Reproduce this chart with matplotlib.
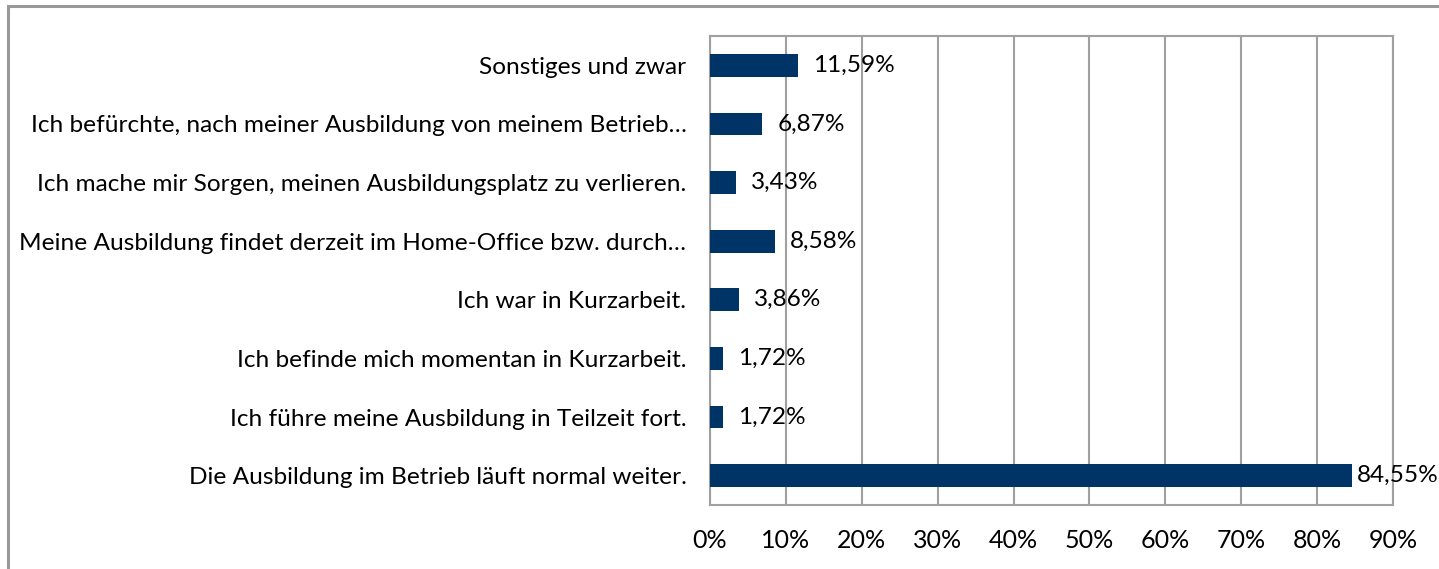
import matplotlib.pyplot as plt
from matplotlib.lines import Line2D

# Data (bottom to top)
categories = ["Die Ausbildung im Betrieb läuft normal weiter.",
              "Ich führe meine Ausbildung in Teilzeit fort.",
              "Ich befinde mich momentan in Kurzarbeit.",
              "Ich war in Kurzarbeit.",
              "Meine Ausbildung findet derzeit im Home-Office bzw. durch…",
              "Ich mache mir Sorgen, meinen Ausbildungsplatz zu verlieren.",
              "Ich befürchte, nach meiner Ausbildung von meinem Betrieb…",
              "Sonstiges und zwar"]
values = [84.55, 1.72, 1.72, 3.86, 8.58, 3.43, 6.87, 11.59]
ticks = [0, 10, 20, 30, 40, 50, 60, 70, 80, 90]

plt.rcParams['font.family'] = ['Lato', 'DejaVu Sans']
W, H = 1439, 569
fig = plt.figure(figsize=(W / 100, H / 100), dpi=100)
ax = fig.add_axes([710 / W, 1 - 505 / H, (1393 - 710) / W, (505 - 36) / H])

bar_color = '#003366'
grid_color = '#a0a0a0'
fs = 17.6
ax.barh(range(len(values)), values, height=0.39, color=bar_color, zorder=3)

ax.set_xlim(0, 90)
ax.set_ylim(-0.5, len(values) - 0.5)
ax.set_xticks(ticks)
ax.set_xticklabels([f"{t}%" for t in ticks], fontsize=18)
ax.set_yticks(range(len(values)))
ax.set_yticklabels(categories, fontsize=fs)
ax.tick_params(axis='both', length=0)
ax.tick_params(axis='x', pad=17)
ax.tick_params(axis='y', pad=17)
ax.grid(axis='x', color=grid_color, linewidth=1.5, zorder=0)
for s in ax.spines.values():
    s.set_color(grid_color)
    s.set_linewidth(1.5)

# value labels
for i, v in enumerate(values):
    off = 5 if v > 80 else 15
    ax.annotate(f"{v:.2f}%".replace('.', ','), (v, i), xytext=(off, 0),
                textcoords='offset pixels', va='center', ha='left', fontsize=fs,
                zorder=4)

# outer chart frame (runs off right/bottom edge)
fig.add_artist(Line2D([8 / W, 8 / W], [0, 1 - 6 / H], color='#999999', lw=2.2,
                      transform=fig.transFigure))
fig.add_artist(Line2D([8 / W, 1], [1 - 6 / H, 1 - 6 / H], color='#999999', lw=2.2,
                      transform=fig.transFigure))

fig.savefig('out.png', dpi=100)
